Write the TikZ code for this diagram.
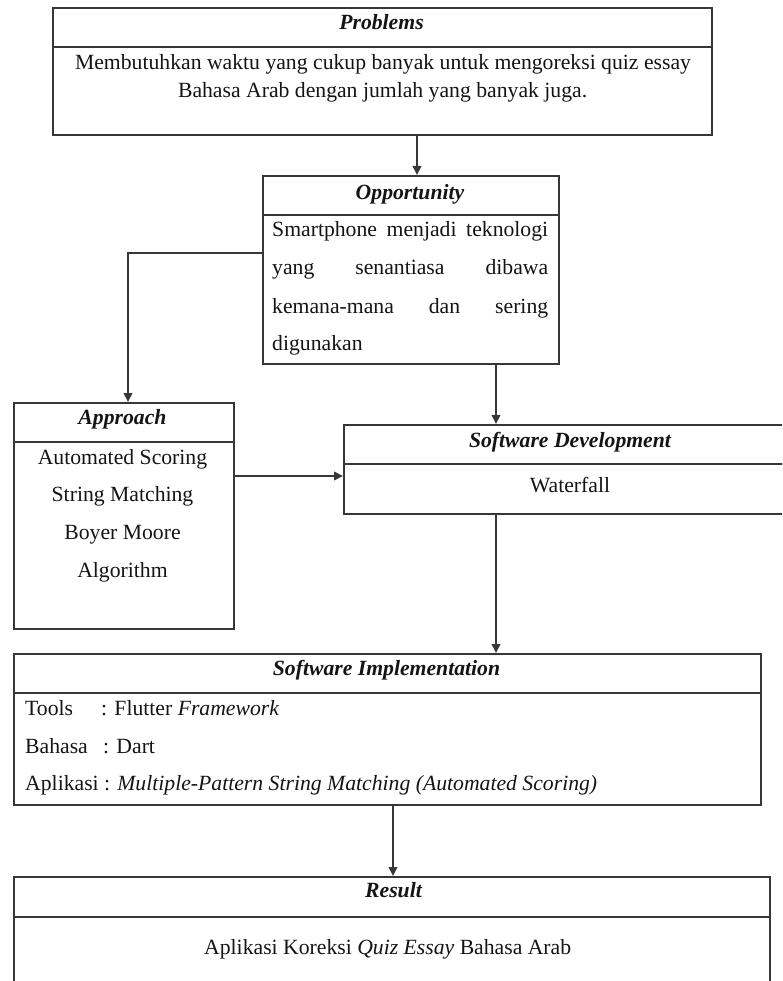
\documentclass[tikz,border=0pt]{standalone}
\usepackage{fontspec}
\setmainfont{Liberation Serif}
\usetikzlibrary{arrows.meta,calc}
\definecolor{linec}{RGB}{55,55,55}
\definecolor{textc}{RGB}{20,20,20}
\newcommand{\fs}{\fontsize{21.7}{25}\selectfont}
\begin{document}
\begin{tikzpicture}[x=1pt,y=-1pt,
  every node/.style={text=textc},
  frame/.style={draw=linec, line width=2pt, rectangle, inner sep=0pt, anchor=north west},
  ttl/.style={font=\fs\bfseries\itshape, anchor=mid, inner sep=0pt},
  txt/.style={font=\fs, anchor=mid, inner sep=0pt},
  txtl/.style={font=\fs, anchor=mid west, inner sep=0pt},
  arr/.style={draw=linec, line width=2pt, -{Triangle[length=9pt,width=8.5pt]}}]
\useasboundingbox (0,0) rectangle (782,981);
\clip (0,0) rectangle (782,981);
% ---------- Problems
\node[frame, minimum width=659pt, minimum height=39pt] (probT) at (52,7) {};
\node[frame, minimum width=659pt, minimum height=88pt] (probB) at (52,46) {};
\node[ttl] (probt) at (381.5,27) {Problems};
\node[txt] (prob1) at (383,67) {Membutuhkan waktu yang cukup banyak untuk mengoreksi quiz essay};
\node[txt] (prob2) at (382.6,95) {Bahasa Arab dengan jumlah yang banyak juga.};
% ---------- Opportunity
\node[frame, minimum width=296pt, minimum height=39pt] (oppT) at (262,175) {};
\node[frame, minimum width=296pt, minimum height=149pt] (oppB) at (262,214) {};
\node[ttl] (oppt) at (410,197) {Opportunity};
\node[txtl] (opp1) at (272,234) {\makebox[276pt][s]{Smartphone menjadi teknologi}};
\node[txtl] (opp2) at (272,272) {\makebox[276pt][s]{yang senantiasa dibawa}};
\node[txtl] (opp3) at (272,311) {\makebox[276pt][s]{kemana-mana dan sering}};
\node[txtl] (opp4) at (272,348) {digunakan};
% ---------- Approach
\node[frame, minimum width=220pt, minimum height=39pt] (apprT) at (13,402) {};
\node[frame, minimum width=220pt, minimum height=187pt] (apprB) at (13,441) {};
\node[ttl] (apprt) at (122.5,422) {Approach};
\node[txt] (appr1) at (122.5,462) {Automated Scoring};
\node[txt] (appr2) at (122.5,499) {String Matching};
\node[txt] (appr3) at (122.5,537) {Boyer Moore};
\node[txt] (appr4) at (122.5,575) {Algorithm};
% ---------- Software Development
\node[frame, minimum width=460pt, minimum height=39pt] (devT) at (343,424) {};
\node[frame, minimum width=460pt, minimum height=50pt] (devB) at (343,463) {};
\node[ttl] (devt) at (570,445) {Software Development};
\node[txt] (dev1) at (570,490) {Waterfall};
% ---------- Software Implementation
\node[frame, minimum width=747pt, minimum height=39pt] (implT) at (13,653) {};
\node[frame, minimum width=747pt, minimum height=112pt] (implB) at (13,692) {};
\node[ttl] (implt) at (386.5,673) {Software Implementation};
\node[txtl] (impl1a) at (25,713) {Tools};
\node[txtl] (impl1b) at (101,713) {: Flutter \textit{Framework}};
\node[txtl] (impl2a) at (25,751) {Bahasa};
\node[txtl] (impl2b) at (103,751) {: Dart};
\node[txtl] (impl3) at (25,788) {Aplikasi : \textit{Multiple-Pattern String Matching (Automated Scoring)}};
% ---------- Result
\node[frame, minimum width=756pt, minimum height=40pt] (resT) at (13,876) {};
\node[frame, minimum width=756pt, minimum height=130pt] (resB) at (13,916) {};
\node[ttl] (rest) at (393.5,895) {Result};
\node[txt] (res1) at (387.7,952) {Aplikasi Koreksi \textit{Quiz Essay} Bahasa Arab};
% ---------- connectors
\coordinate (xa) at (417,0);
\coordinate (xb) at (496,0);
\coordinate (xc) at (128,0);
\coordinate (ya) at (0,253);
\coordinate (yb) at (0,476);
\coordinate (xd) at (393,0);
\draw[arr] (probB.south -| xa) -- (oppT.north -| xa);
\draw[arr] (oppB.west |- ya) -- (xc |- ya) -- (apprT.north -| xc);
\draw[arr] (oppB.south -| xb) -- (devT.north -| xb);
\draw[arr] (apprB.east |- yb) -- (devB.west |- yb);
\draw[arr] (devB.south -| xb) -- (implT.north -| xb);
\draw[arr] (implB.south -| xd) -- (resT.north -| xd);
\end{tikzpicture}
\end{document}
